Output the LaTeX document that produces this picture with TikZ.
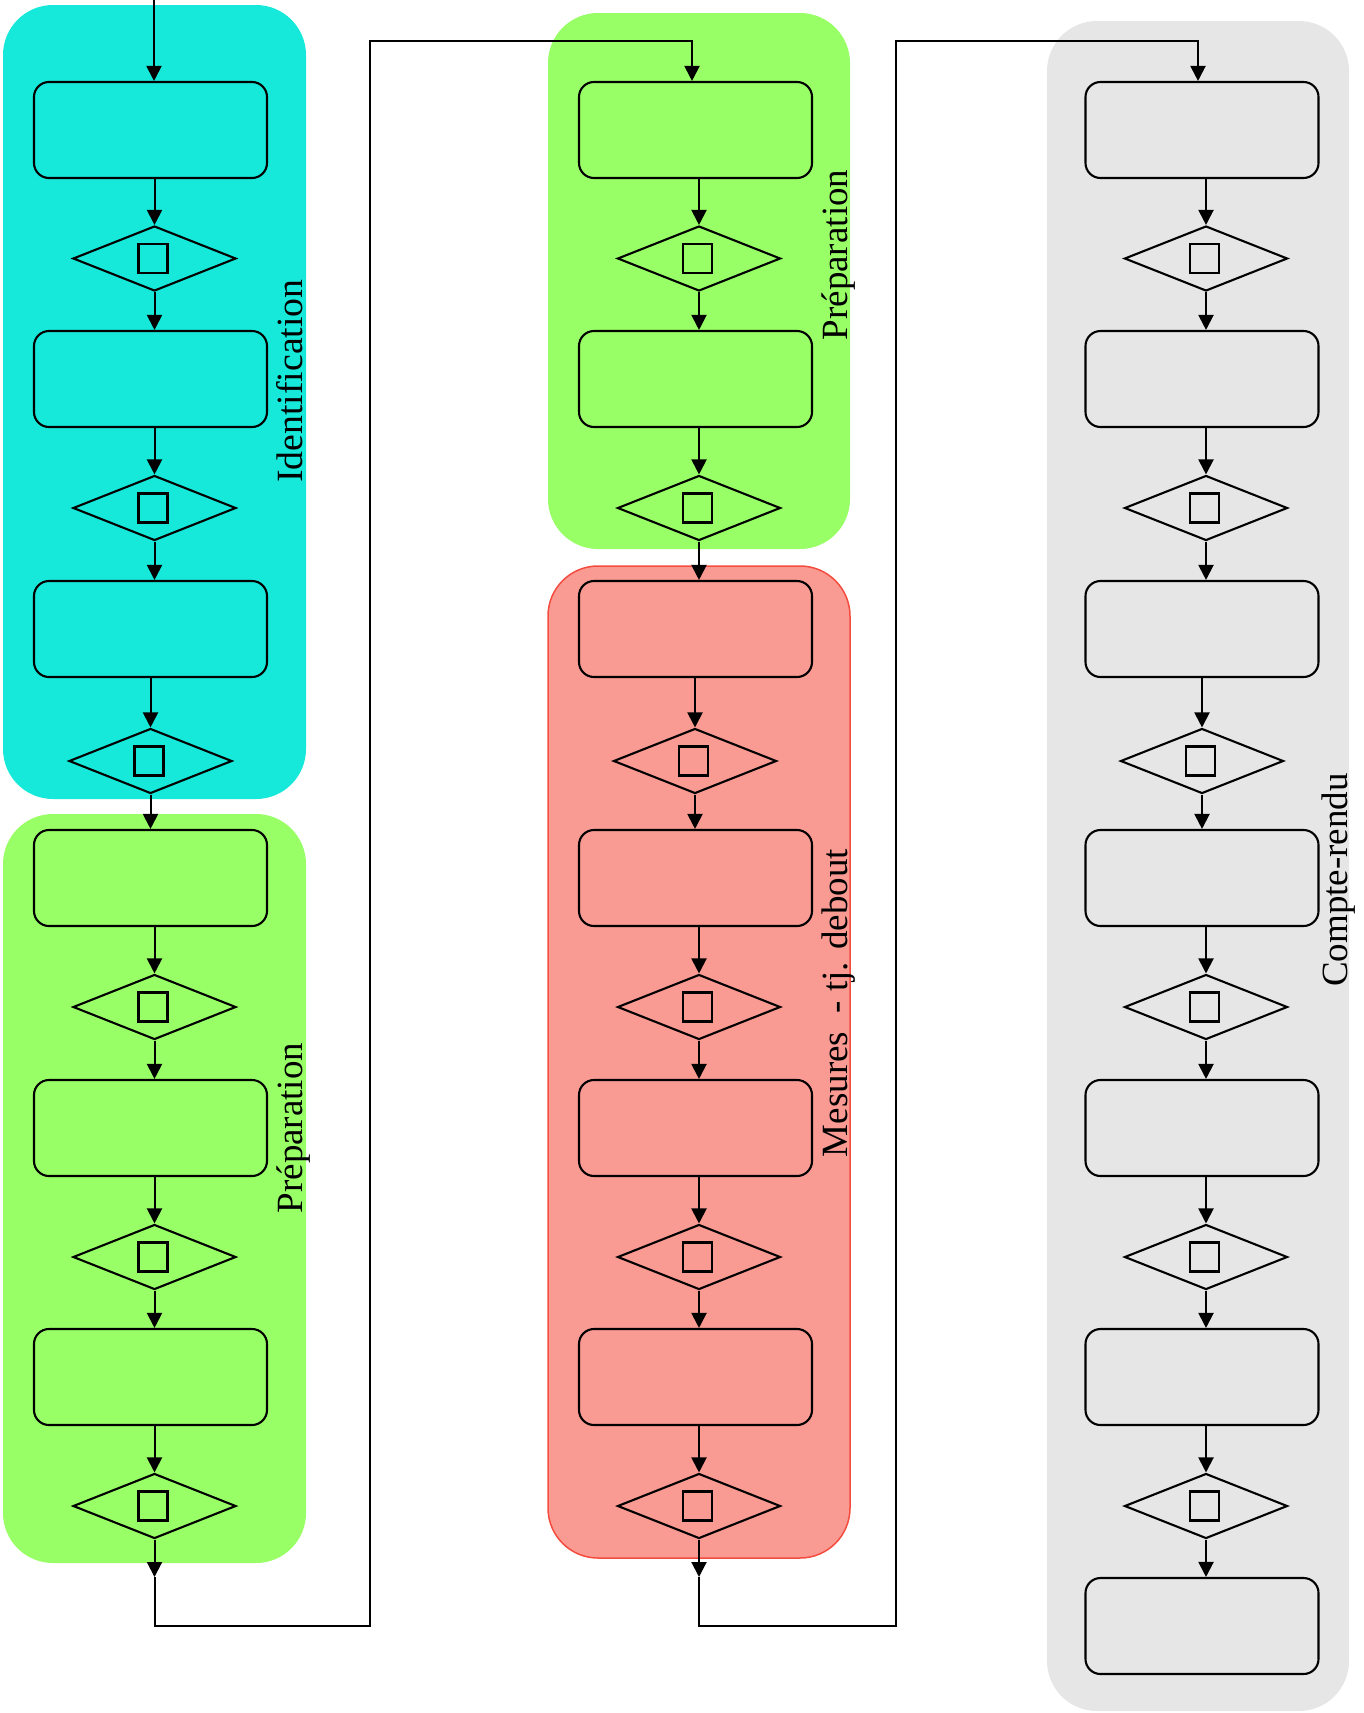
\documentclass[tikz,border=0pt]{standalone}
\usepackage{fontspec}
\setmainfont{Liberation Serif}
\usetikzlibrary{shapes.geometric,arrows.meta}
\definecolor{laneCyan}{HTML}{16E9DA}
\definecolor{laneGreen}{HTML}{99FF66}
\definecolor{laneRed}{HTML}{F99A93}
\definecolor{laneRedBorder}{HTML}{F44D3F}
\definecolor{laneGray}{HTML}{E6E6E6}
\begin{document}
\begin{tikzpicture}[x=1pt,y=-1pt,
  lane/.style={rounded corners=50pt},
  stepbox/.style={draw, line width=2.1pt, rounded corners=15pt, minimum width=233pt, minimum height=96pt, inner sep=0pt},
  decision/.style={draw, diamond, line width=2.1pt, minimum width=163pt, minimum height=65pt, inner sep=0pt, aspect=2.5,
    path picture={\draw[line width=2.1pt] ([xshift=-16pt,yshift=-14.5pt]path picture bounding box.center) rectangle ([xshift=13pt,yshift=14.5pt]path picture bounding box.center);}},
  flow/.style={line width=2pt, -{Triangle[length=15pt,width=15pt]}},
  lanelabel/.style={rotate=90, anchor=base, font=\fontsize{37}{44}\selectfont, inner sep=0pt}
]
\useasboundingbox (0,0) rectangle (1364,1713);

% swimlanes
\fill[laneCyan, lane] (3,5) rectangle (306,799);
\fill[laneGreen, lane] (3,814) rectangle (306,1563);
\fill[laneGreen, lane] (548,13) rectangle (850,549);
\filldraw[fill=laneRed, draw=laneRedBorder, line width=1.5pt, lane] (548,566) rectangle (850,1558);
\fill[laneGray, lane] (1047,21) rectangle (1349,1711);

% lane labels
\node[lanelabel] (labId) at (302,381) {\scalebox{1.02}[1]{Identification}};
\node[lanelabel] (labPrepL) at (302,1128) {Préparation};
\node[lanelabel] (labPrepM) at (847,255) {Préparation};
\node[lanelabel] (labMes) at (847,1003) {Mesures\ \ - tj. debout};
\node[lanelabel] (labCR) at (1347,880) {Compte-rendu};

% left column
\foreach \i/\y in {1/130,2/379,3/629,4/878,5/1128,6/1377}
  \node[stepbox] (L\i) at (150.5,\y) {};
\foreach \i/\x/\y in {1/154.5/258.5,2/154.5/508,3/150.5/761,4/154.5/1007,5/154.5/1257,6/154.5/1506}
  \node[decision] (LD\i) at (\x,\y) {};

% middle column
\foreach \i/\y in {1/130,2/379,3/629,4/878,5/1128,6/1377}
  \node[stepbox] (M\i) at (695.5,\y) {};
\foreach \i/\x/\y in {1/699/258.5,2/699/508,3/695/761,4/699/1007,5/699/1257,6/699/1506}
  \node[decision] (MD\i) at (\x,\y) {};

% right column
\foreach \i/\y in {1/130,2/379,3/629,4/878,5/1128,6/1377,7/1626}
  \node[stepbox] (R\i) at (1202,\y) {};
\foreach \i/\x/\y in {1/1206/258.5,2/1206/508,3/1202/761,4/1206/1007,5/1206/1257,6/1206/1506}
  \node[decision] (RD\i) at (\x,\y) {};

% column connectors
\foreach \c in {L,M,R}{
  \foreach \i in {1,...,6}
    \draw[flow] (\c\i.south -| \c D\i.north) -- (\c D\i.north);
  \foreach \i [evaluate=\i as \j using int(\i+1)] in {1,...,5}
    \draw[flow] (\c D\i.south) -- (\c D\i.south |- \c\j.north);
}
\draw[flow] (RD6.south) -- (RD6.south |- R7.north);

% entry and cross-column links
\coordinate (Lstart) at (154,-3);
\draw[flow] (Lstart) -- (L1.north -| Lstart);

\coordinate (Lend) at (154.5,1577);
\coordinate (Lc1) at (370,1626);
\coordinate (Lc2) at (370,41);
\coordinate (Min) at (692,41);
\draw[flow] (LD6.south) -- (Lend);
\draw[flow] (Lend) |- (Lc1) -- (Lc2) -| (M1.north -| Min);

\coordinate (Mend) at (699,1577);
\coordinate (Mc1) at (896,1626);
\coordinate (Mc2) at (896,41);
\coordinate (Rin) at (1198,41);
\draw[flow] (MD6.south) -- (Mend);
\draw[flow] (Mend) |- (Mc1) -- (Mc2) -| (R1.north -| Rin);
\end{tikzpicture}
\end{document}
